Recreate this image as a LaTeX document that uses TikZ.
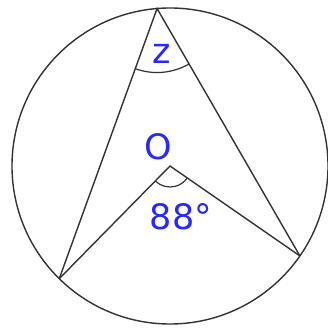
\documentclass[tikz,border=0pt]{standalone}
\usepackage{fontspec}
\setmainfont{DejaVu Sans}
\usetikzlibrary{angles,calc}
\definecolor{lblblue}{RGB}{40,40,250}

\begin{document}
\begin{tikzpicture}[
  x=1pt, y=1pt, line width=1.4pt,
  edge/.style={draw=black!80},
  ang/.style={draw=black!80, line width=1.2pt},
  lbl/.style={text=lblblue, font=\fontsize{35}{35}\selectfont, inner sep=0pt}]
  \useasboundingbox (0,0) rectangle (327,328);
  \coordinate (O) at (170,162);
  \coordinate (A) at ($(O)+(94.7:158)$);
  \coordinate (B) at ($(O)+(225.5:158)$);
  \coordinate (C) at ($(O)+(325.3:158)$);
  \draw[edge] (O) circle (158);
  \draw[edge] (B) -- (A) -- (C);
  \draw[edge] (B) -- (O) -- (C);
  \pic[ang, angle radius=64] {angle = B--A--C};
  \pic[ang, angle radius=21] {angle = B--O--C};
  \node[lbl] (z) at (162,274) {z};
  \node[lbl] (olbl) at (158,181) {O};
  \node[lbl] (deg) at (181,111) {88°};
\end{tikzpicture}
\end{document}
